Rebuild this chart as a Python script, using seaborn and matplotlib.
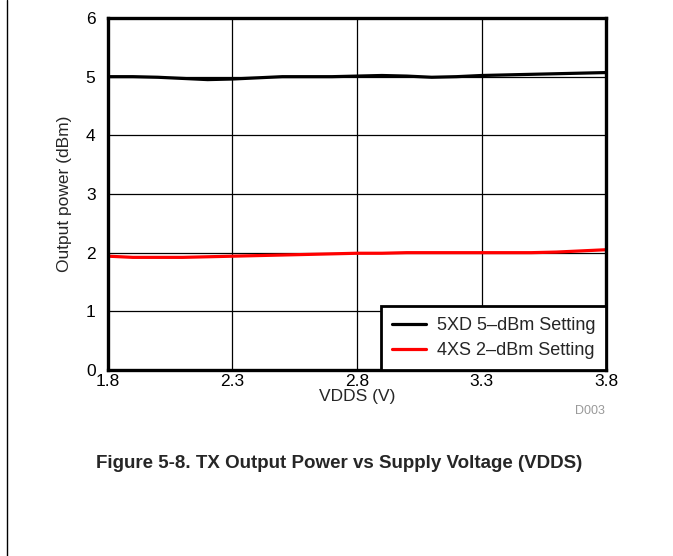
import pandas as pd
import seaborn as sns
import matplotlib
matplotlib.use("Agg")
import matplotlib.pyplot as plt
from matplotlib.lines import Line2D

# Supply voltage sweep (V)
vdds = [1.8, 1.9, 2.0, 2.1, 2.2, 2.3, 2.4, 2.5, 2.6, 2.7, 2.8,
        2.9, 3.0, 3.1, 3.2, 3.3, 3.4, 3.5, 3.6, 3.7, 3.8]

# Output power (dBm) per setting
power_5dbm = [5.00, 5.00, 4.99, 4.97, 4.95, 4.96, 4.98, 5.00, 5.00, 5.00, 5.01,
              5.02, 5.01, 4.99, 5.00, 5.02, 5.03, 5.04, 5.05, 5.06, 5.07]
power_2dbm = [1.94, 1.92, 1.92, 1.92, 1.93, 1.94, 1.95, 1.96, 1.97, 1.98, 1.99,
              1.99, 2.00, 2.00, 2.00, 2.00, 2.00, 2.00, 2.01, 2.03, 2.05]

series_names = ["5XD 5\u2013dBm Setting", "4XS 2\u2013dBm Setting"]
series_colors = ["black", "red"]

x_ticks = [1.8, 2.3, 2.8, 3.3, 3.8]
y_ticks = [0, 1, 2, 3, 4, 5, 6]

df = pd.DataFrame({
    "vdds": vdds * 2,
    "power": power_5dbm + power_2dbm,
    "setting": [series_names[0]] * len(vdds) + [series_names[1]] * len(vdds),
})

sns.set_style("white")
plt.rcParams["font.family"] = ["Liberation Sans", "DejaVu Sans"]

fig = plt.figure(figsize=(6.73, 5.56), dpi=100)
ax = fig.add_axes([108 / 673, 1 - 370 / 556, 498 / 673, 352 / 556])

sns.lineplot(data=df, x="vdds", y="power", hue="setting",
             palette=dict(zip(series_names, series_colors)),
             linewidth=2.3, ax=ax, legend=False)

ax.set_xlim(1.8, 3.8)
ax.set_ylim(0, 6)
ax.set_xticks(x_ticks)
ax.set_yticks(y_ticks)
ax.set_xticklabels([f"{t:.1f}" for t in x_ticks])
ax.grid(True, color="black", linewidth=0.9)
ax.set_axisbelow(True)
ax.tick_params(length=0, labelsize=12.5, colors="black")
ax.tick_params(axis="x", pad=3)
ax.tick_params(axis="y", pad=9)
for s in ax.spines.values():
    s.set_visible(True)
    s.set_color("black")
    s.set_linewidth(2.4)

ax.set_xlabel("VDDS (V)", fontsize=12.5, labelpad=0)
ax.set_ylabel("Output power (dBm)", fontsize=12.5, labelpad=10)

handles = [Line2D([], [], color=c, linewidth=2.3) for c in series_colors]
leg = ax.legend(handles, series_names, loc="lower right", fontsize=13,
                frameon=True, fancybox=False, framealpha=1,
                borderpad=0.6, handlelength=1.9, handletextpad=0.6,
                labelspacing=0.45, borderaxespad=0)
leg.get_frame().set_edgecolor("black")
leg.get_frame().set_linewidth(2.0)

fig.text(605 / 673, 1 - 411 / 556, "D003", color="#999999", fontsize=9,
         ha="right", va="center")
fig.text(339 / 673, 1 - 463 / 556,
         "Figure 5-8. TX Output Power vs Supply Voltage (VDDS)",
         fontsize=13.5, fontweight="bold", ha="center", va="center")

fig.add_artist(Line2D([7 / 673, 7 / 673], [0, 1], transform=fig.transFigure,
                      color="black", linewidth=1))

fig.savefig("out.png", dpi=100)
